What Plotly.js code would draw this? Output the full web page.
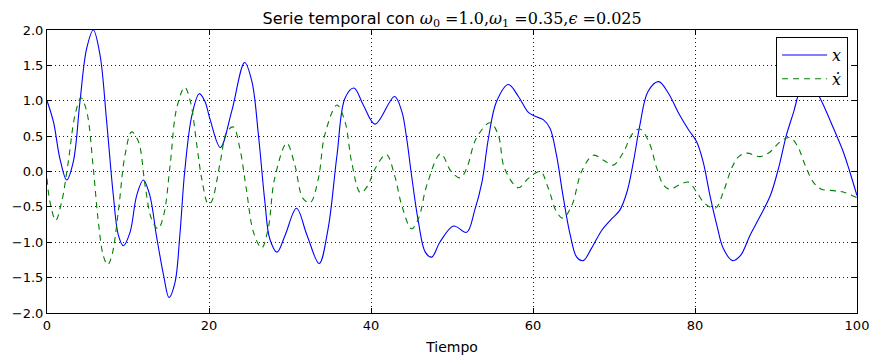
<!DOCTYPE html>
<html>
<head>
<meta charset="utf-8">
<script src="https://cdn.plot.ly/plotly-3.0.1.min.js"></script>
<style>
  html, body { margin: 0; padding: 0; background: #fff; }
  #chart { width: 872px; height: 356px; }
</style>
</head>
<body>
<div id="chart"></div>
<script>
// Time (Tiempo) and position x
const tX = [0, 0.8, 1.6, 2.43, 3.25, 4.07, 4.9, 5.72, 6.54, 7.37, 8.19, 8.81, 9.42, 10.25, 11.07, 11.89, 12.7, 13.5, 14.4, 15.06, 15.8, 16.4, 17.0, 17.9, 18.8, 19.5, 20.1, 21.4, 22.8, 24.4, 25.3, 26.1, 26.9, 27.5, 28.4, 29.4, 30.8, 32.1, 33.6, 34.7, 35.8, 36.8, 37.9, 39.05, 40.5, 42.9, 43.8, 44.4, 45.0, 45.85, 46.7, 47.5, 48.5, 50.2, 51.8, 52.8, 53.7, 54.5, 55.5, 56.96, 58.2, 59.4, 60.25, 61.3, 62.1, 62.9, 63.7, 64.6, 65.4, 66.2, 67.2, 68.5, 69.7, 70.7, 71.6, 72.4, 73.2, 74.2, 75.5, 76.7, 78.0, 79.2, 80.2, 81.0, 81.85, 82.7, 83.5, 84.65, 85.6, 86.8, 88.0, 89.3, 90.3, 91.3, 92.2, 92.9, 93.9, 95.0, 95.85, 97.1, 98.3, 99.1, 100];
const xVals = [1.0, 0.70, 0.18, -0.12, 0.14, 0.99, 1.74, 2.0, 1.65, 0.70, -0.34, -0.90, -1.05, -0.86, -0.34, -0.12, -0.34, -0.90, -1.47, -1.78, -1.57, -0.90, 0.0, 0.80, 1.10, 0.99, 0.75, 0.34, 0.85, 1.54, 1.27, 0.52, -0.43, -0.95, -1.14, -0.90, -0.52, -0.90, -1.30, -0.81, 0.23, 1.04, 1.18, 0.94, 0.67, 1.06, 0.85, 0.47, -0.05, -0.71, -1.14, -1.21, -1.00, -0.77, -0.86, -0.55, -0.15, 0.47, 0.99, 1.23, 1.06, 0.84, 0.78, 0.73, 0.61, 0.23, -0.34, -0.90, -1.21, -1.26, -1.09, -0.83, -0.67, -0.55, -0.29, 0.14, 0.66, 1.13, 1.27, 1.11, 0.82, 0.59, 0.42, 0.14, -0.34, -0.76, -1.09, -1.26, -1.19, -0.90, -0.64, -0.34, 0.04, 0.52, 0.85, 1.13, 1.32, 1.13, 0.94, 0.61, 0.28, 0.00, -0.34];

// Time and velocity x-dot
const tV = [0, 0.37, 1.07, 1.81, 2.63, 3.46, 4.2, 4.9, 5.72, 6.3, 6.95, 7.49, 8.0, 8.8, 9.63, 10.45, 11.3, 12.1, 12.9, 13.7, 14.4, 15.2, 16.0, 17.0, 17.7, 18.5, 19.1, 19.9, 20.3, 21.4, 22.2, 23.0, 23.8, 24.6, 25.5, 26.5, 27.3, 28.1, 29.6, 30.6, 31.6, 32.5, 33.5, 34.3, 35.8, 36.8, 37.6, 38.7, 39.6, 40.5, 41.9, 42.9, 43.8, 45.0, 45.85, 46.9, 48.6, 49.9, 51.0, 51.8, 53.0, 54.7, 55.7, 56.5, 58.2, 59.4, 60.9, 61.9, 62.9, 63.7, 64.8, 66.0, 67.45, 68.7, 69.9, 71.2, 72.2, 73.2, 74.3, 75.3, 76.1, 76.8, 78.4, 79.2, 80.2, 81.2, 82.5, 83.5, 84.5, 85.4, 86.4, 88.0, 89.3, 90.5, 91.7, 92.6, 93.6, 94.6, 95.6, 97.1, 98.3, 100];
const vVals = [-0.1, -0.43, -0.69, -0.43, 0.14, 0.80, 1.04, 0.85, 0.04, -0.67, -1.19, -1.32, -1.19, -0.57, 0.23, 0.56, 0.42, -0.19, -0.67, -0.81, -0.62, 0.09, 0.89, 1.19, 0.99, 0.37, -0.10, -0.46, -0.43, 0.14, 0.56, 0.63, 0.33, -0.24, -0.86, -1.08, -0.81, -0.10, 0.40, 0.09, -0.38, -0.44, -0.10, 0.52, 0.94, 0.70, 0.14, -0.30, -0.20, 0.04, 0.24, -0.05, -0.48, -0.81, -0.67, -0.19, 0.25, 0.00, -0.09, 0.04, 0.47, 0.69, 0.52, 0.04, -0.23, -0.10, 0.00, -0.24, -0.57, -0.66, -0.48, 0.00, 0.23, 0.16, 0.09, 0.28, 0.52, 0.60, 0.42, 0.04, -0.19, -0.25, -0.17, -0.15, -0.29, -0.45, -0.52, -0.29, 0.04, 0.21, 0.26, 0.21, 0.28, 0.42, 0.48, 0.37, 0.09, -0.15, -0.25, -0.27, -0.29, -0.37];

const xTicks = [0, 20, 40, 60, 80, 100];
const yTicks = [-2.0, -1.5, -1.0, -0.5, 0.0, 0.5, 1.0, 1.5, 2.0];

const serif = "font-family:'DejaVu Serif','Liberation Serif',serif";
const titleText = "Serie temporal con <span style=\"" + serif + "\"><i>ω</i><sub>0</sub> =1.0,<i>ω</i><sub>1</sub> =0.35,<i>ϵ</i> =0.025</span>";

const traces = [
  {
    x: tX, y: xVals, type: 'scatter', mode: 'lines',
    name: "<span style=\"" + serif + "\"><i>x</i></span>",
    line: { color: '#0000ff', width: 1.1, shape: 'spline', smoothing: 1 }
  },
  {
    x: tV, y: vVals, type: 'scatter', mode: 'lines',
    name: "<span style=\"" + serif + "\"><i>ẋ</i></span>",
    line: { color: '#008000', width: 1.1, dash: '6px,5px', shape: 'spline', smoothing: 1 }
  }
];

const axisCommon = {
  showline: true, linecolor: '#000', linewidth: 1, mirror: 'ticks',
  ticks: 'inside', ticklen: 5, tickcolor: '#000', tickwidth: 1,
  showgrid: true, gridcolor: 'rgba(0,0,0,0.9)', gridwidth: 1, griddash: '1px,3px',
  zeroline: false,
  tickfont: { family: 'DejaVu Sans, sans-serif', size: 13, color: '#000' }
};

const layout = {
  width: 872, height: 356,
  margin: { l: 47, r: 15, t: 30, b: 43 },
  paper_bgcolor: '#fff', plot_bgcolor: '#fff',
  title: {
    text: titleText,
    font: { family: 'DejaVu Sans, sans-serif', size: 16, color: '#000' },
    x: 0.5185, xanchor: 'center', y: 0.948, yanchor: 'middle'
  },
  xaxis: Object.assign({}, axisCommon, {
    range: [0, 100], tickvals: xTicks, ticktext: xTicks.map(String),
    title: { text: 'Tiempo', font: { family: 'DejaVu Sans, sans-serif', size: 14, color: '#000' }, standoff: 10 }
  }),
  yaxis: Object.assign({}, axisCommon, {
    range: [-2, 2], tickvals: yTicks, tickformat: '.1f'
  }),
  showlegend: true,
  legend: {
    x: 0.989, xanchor: 'right', y: 0.975, yanchor: 'top',
    bgcolor: '#fff', bordercolor: '#000', borderwidth: 1,
    font: { family: 'DejaVu Serif, serif', size: 16, color: '#000' },
    itemwidth: 45, tracegroupgap: 6
  }
};

Plotly.newPlot('chart', traces, layout, { displayModeBar: false, staticPlot: true });
</script>
</body>
</html>
